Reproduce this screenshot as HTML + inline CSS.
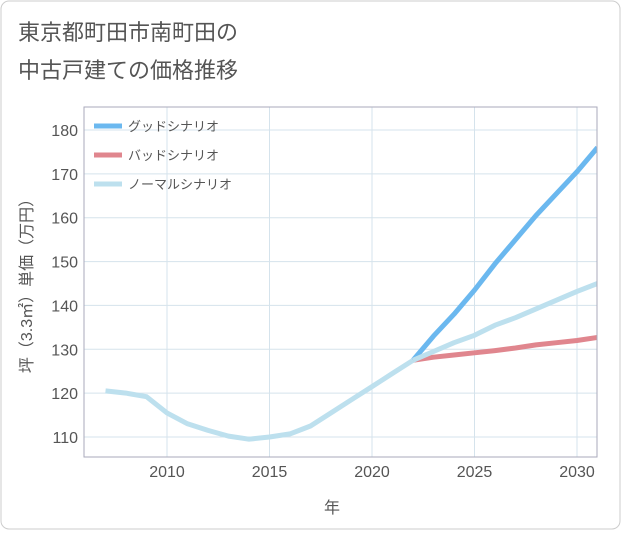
<!DOCTYPE html>
<html><head><meta charset="utf-8">
<style>
body{margin:0;background:#fff;}
#wrap{position:relative;width:621px;height:530px;font-family:"Liberation Sans","Noto Sans CJK JP",sans-serif;}
</style></head>
<body>
<div id="wrap">
<svg id="chart" width="621" height="530" xmlns="http://www.w3.org/2000/svg">
<rect x="1" y="1" width="619" height="528" rx="8" fill="#fff" stroke="#ccc"/>
<text x="18" y="40" font-size="22" fill="#555">東京都町田市南町田の</text>
<text x="18" y="78" font-size="22" fill="#555">中古戸建ての価格推移</text>
<g id="grid"></g><g id="series"></g><g id="axes"></g>
<rect x="84" y="107" width="513" height="350" fill="none" stroke="#aab"/>
<text x="332" y="513" font-size="16" fill="#555" text-anchor="middle">年</text>
<text transform="translate(32,282) rotate(-90)" font-size="16" fill="#555" text-anchor="middle">坪（3.3㎡）単価（万円）</text>
<g>
<line x1="94" y1="126" x2="122" y2="126" stroke="#6bb8ef" stroke-width="5"/>
<text x="128" y="131" font-size="13" fill="#555">グッドシナリオ</text>
<line x1="94" y1="155" x2="122" y2="155" stroke="#e0868e" stroke-width="5"/>
<text x="128" y="160" font-size="13" fill="#555">バッドシナリオ</text>
<line x1="94" y1="184" x2="122" y2="184" stroke="#bde0ee" stroke-width="5"/>
<text x="128" y="189" font-size="13" fill="#555">ノーマルシナリオ</text>
</g>
</svg>
</div>
<script>
const histYears=[2007,2008,2009,2010,2011,2012,2013,2014,2015,2016,2017,2018,2019,2020,2021,2022];
const histValues=[120.5,120,119.2,115.5,113,111.5,110.2,109.5,110,110.7,112.5,115.5,118.5,121.5,124.5,127.5];
const futYears=[2022,2023,2024,2025,2026,2027,2028,2029,2030,2031];
const goodValues=[127.5,133,138,143.5,149.5,155,160.5,165.5,170.5,176];
const badValues=[127.5,128.2,128.7,129.2,129.7,130.3,131,131.5,132,132.7];
const normalValues=[127.5,129.5,131.5,133.2,135.5,137.2,139.2,141.2,143.2,145];
const xTicks=[2010,2015,2020,2025,2030];
const yTicks=[110,120,130,140,150,160,170,180];
const NS="http://www.w3.org/2000/svg";
const X=y=>167+(y-2010)*20.5;
const Y=v=>437-(v-110)*(307/70);
function mk(t,a,p){const e=document.createElementNS(NS,t);for(const k in a)e.setAttribute(k,a[k]);p.appendChild(e);return e;}
const grid=document.getElementById('grid'),axes=document.getElementById('axes'),ser=document.getElementById('series');
xTicks.forEach(t=>{const l=mk('line',{x1:X(t),x2:X(t),y1:107,y2:457,stroke:'#d5e3ec'},grid);

const tx=mk('text',{x:X(t),y:477,'font-size':16,fill:'#555','text-anchor':'middle'},axes);tx.textContent=t;
});
yTicks.forEach(t=>{const l=mk('line',{x1:84,x2:597,y1:Y(t),y2:Y(t),stroke:'#d5e3ec'},grid);

const tx=mk('text',{x:78,y:Y(t)+6,'font-size':16,fill:'#555','text-anchor':'end'},axes);tx.textContent=t;
});
function line(xs,vs,c,n){const d=xs.map((x,i)=>(i?'L':'M')+X(x).toFixed(1)+','+Y(vs[i]).toFixed(1)).join('');
const p=mk('path',{d:d,fill:'none',stroke:c,'stroke-width':5,'stroke-linejoin':'round'},ser);
}
const cl=mk('clipPath',{id:'pc'},document.getElementById('chart'));mk('rect',{x:84,y:107,width:513,height:350},cl);
ser.setAttribute('clip-path','url(#pc)');
line(futYears,goodValues,'#6bb8ef','good-scenario-line');
line(futYears,badValues,'#e0868e','bad-scenario-line');
line(futYears,normalValues,'#bde0ee','normal-scenario-line');
line(histYears,histValues,'#bde0ee','historical-line');
</script>
</body></html>
